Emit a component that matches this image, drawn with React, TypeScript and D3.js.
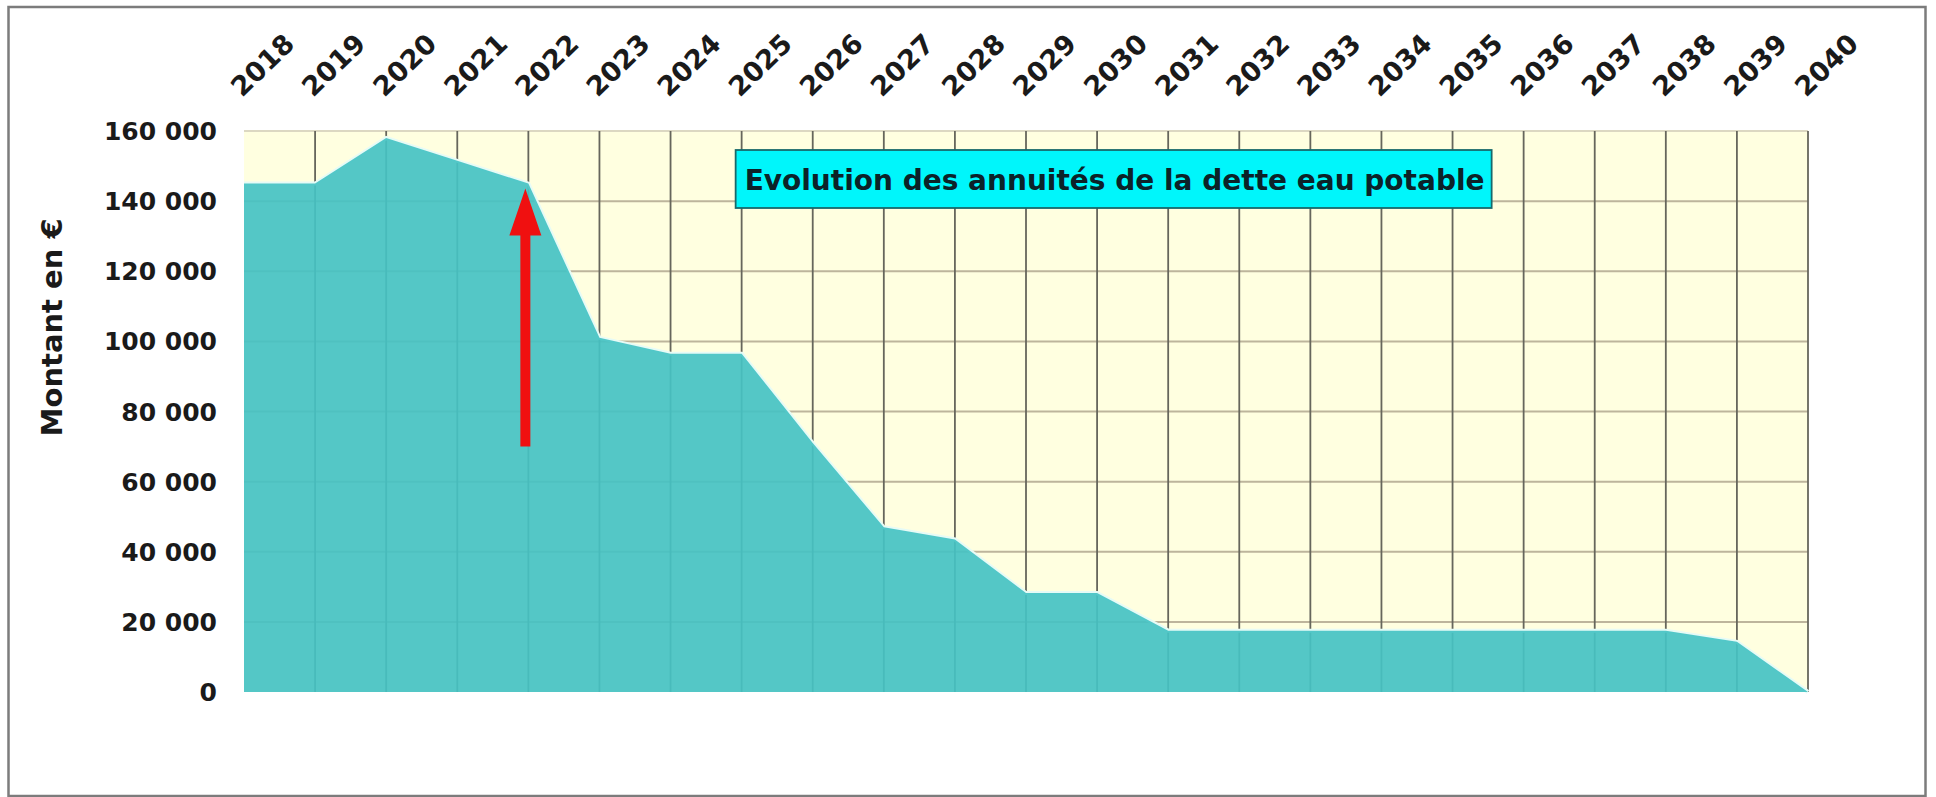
// AnnuitesChart.tsx

import React, { useEffect, useRef } from 'react';
import * as d3 from 'd3';

const years = [
  '2018', '2019', '2020', '2021', '2022', '2023', '2024', '2025',
  '2026', '2027', '2028', '2029', '2030', '2031', '2032', '2033',
  '2034', '2035', '2036', '2037', '2038', '2039', '2040',
];

const annuities = [
  145000, 145000, 158000, 151500, 145000, 101000, 96500, 96500,
  71000, 47000, 43500, 28200, 28200, 17500, 17500, 17500,
  17500, 17500, 17500, 17500, 17500, 14300, 0,
];

const yTicks = [0, 20000, 40000, 60000, 80000, 100000, 120000, 140000, 160000];

const titleText = 'Evolution des annuités de la dette eau potable';
const yAxisLabel = 'Montant en €';

// red arrow pointing at the 2022 annuity
const arrowYear = '2022';
const arrowFrom = 70000;

const WIDTH = 1936;
const HEIGHT = 797;
const FONT = "'DejaVu Sans', Verdana, sans-serif";

const frLocale = d3.formatLocale({
  decimal: ',',
  thousands: ' ',
  grouping: [3],
  currency: ['', ' €'],
});
const fmt = frLocale.format(',d');

const AnnuitesChart = () => {
  const svgRef = useRef(null);

  useEffect(() => {
    const svg = d3.select(svgRef.current);
    svg.selectAll('*').remove();

    const margin = { top: 131, right: 128, bottom: 105, left: 244 };
    const plotW = WIDTH - margin.left - margin.right;
    const plotH = HEIGHT - margin.top - margin.bottom;

    const data = years.map((year, i) => ({ year, value: annuities[i] }));

    const x = d3.scalePoint().domain(years).range([0, plotW]);
    const y = d3.scaleLinear().domain([0, 160000]).range([plotH, 0]);

    svg
      .append('rect')
      .attr('width', WIDTH)
      .attr('height', HEIGHT)
      .attr('fill', '#ffffff');

    const g = svg
      .append('g')
      .attr('transform', `translate(${margin.left},${margin.top})`);

    // plot background
    g.append('rect')
      .attr('width', plotW)
      .attr('height', plotH)
      .attr('fill', '#ffffe0');

    // horizontal gridlines
    g.selectAll('.hgrid')
      .data(yTicks.filter((d) => d > 0))
      .enter()
      .append('line')
      .attr('class', 'hgrid')
      .attr('x1', 0)
      .attr('x2', plotW)
      .attr('y1', (d) => y(d))
      .attr('y2', (d) => y(d))
      .attr('stroke', (d) => (d === 160000 ? '#dcd8c2' : '#bdb59c'))
      .attr('stroke-width', 2);

    // vertical gridlines (none on the first category)
    g.selectAll('.vgrid')
      .data(years.slice(1))
      .enter()
      .append('line')
      .attr('class', 'vgrid')
      .attr('x1', (d) => x(d))
      .attr('x2', (d) => x(d))
      .attr('y1', 0)
      .attr('y2', plotH)
      .attr('stroke', '#66665c')
      .attr('stroke-width', 1.8);

    // soft halo along the top of the area
    const line = d3
      .line()
      .x((d) => x(d.year))
      .y((d) => y(d.value));

    g.append('path')
      .datum(data)
      .attr('d', line)
      .attr('fill', 'none')
      .attr('stroke', '#e6fbf6')
      .attr('stroke-width', 4);

    // area
    const area = d3
      .area()
      .x((d) => x(d.year))
      .y0(y(0))
      .y1((d) => y(d.value));

    g.append('path')
      .datum(data)
      .attr('d', area)
      .attr('fill', '#45c2c3')
      .attr('fill-opacity', 0.92);

    // red arrow
    const ax = x(arrowYear) - 3;
    const arrowTarget = annuities[years.indexOf(arrowYear)];
    const tipY = y(arrowTarget) + 5;
    const baseY = tipY + 47;
    const bottomY = y(arrowFrom);
    const headHalf = 16;
    const shaftHalf = 5;
    g.append('path')
      .attr(
        'd',
        `M${ax},${tipY} L${ax + headHalf},${baseY} L${ax + shaftHalf},${baseY} ` +
          `L${ax + shaftHalf},${bottomY} L${ax - shaftHalf},${bottomY} ` +
          `L${ax - shaftHalf},${baseY} L${ax - headHalf},${baseY} Z`,
      )
      .attr('fill', '#f01010');

    // title box
    const boxX = x('2025') - 6;
    const boxY = 19;
    g.append('rect')
      .attr('x', boxX)
      .attr('y', boxY)
      .attr('width', 756)
      .attr('height', 58)
      .attr('fill', '#00f6fb')
      .attr('stroke', '#17696b')
      .attr('stroke-width', 1.8);

    g.append('text')
      .attr('x', boxX + 9)
      .attr('y', boxY + 40)
      .style('font-family', FONT)
      .style('font-weight', 'bold')
      .style('font-size', '28px')
      .attr('fill', '#0c2228')
      .text(titleText);

    // y tick labels
    g.selectAll('.ytick')
      .data(yTicks)
      .enter()
      .append('text')
      .attr('class', 'ytick')
      .attr('x', -27)
      .attr('y', (d) => y(d) + 9)
      .attr('text-anchor', 'end')
      .style('font-family', FONT)
      .style('font-weight', 'bold')
      .style('font-size', '25px')
      .attr('fill', '#1a1a1a')
      .text((d) => fmt(d));

    // x labels, rotated, above the plot
    g.selectAll('.xtick')
      .data(years)
      .enter()
      .append('text')
      .attr('class', 'xtick')
      .attr(
        'transform',
        (d) => `translate(${x(d) - 2},${-33}) rotate(-44)`,
      )
      .attr('text-anchor', 'start')
      .style('font-family', FONT)
      .style('font-weight', 'bold')
      .style('font-size', '27px')
      .attr('fill', '#1a1a1a')
      .text((d) => d);

    // y axis title
    svg
      .append('text')
      .attr('transform', `translate(62,${margin.top + plotH * 0.35}) rotate(-90)`)
      .attr('text-anchor', 'middle')
      .style('font-family', FONT)
      .style('font-weight', 'bold')
      .style('font-size', '29px')
      .attr('fill', '#1a1a1a')
      .text(yAxisLabel);

    // outer frame
    svg
      .append('rect')
      .attr('x', 8.5)
      .attr('y', 7)
      .attr('width', 1917)
      .attr('height', 789)
      .attr('fill', 'none')
      .attr('stroke', '#7c7c7c')
      .attr('stroke-width', 2.5);
  }, []);

  return (
    <svg
      ref={svgRef}
      width={WIDTH}
      height={HEIGHT}
      style={{ position: 'absolute', left: 0, top: 0, display: 'block' }}
    ></svg>
  );
};

export default function App() {
  return <AnnuitesChart />;
}
